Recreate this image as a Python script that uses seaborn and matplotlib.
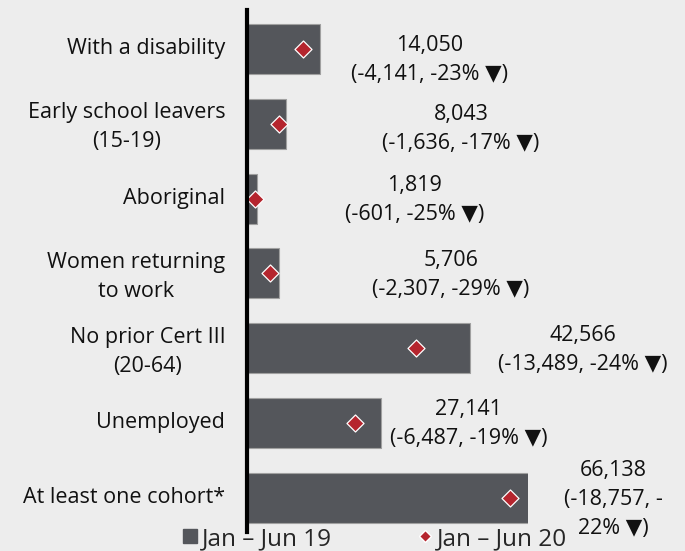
import matplotlib
matplotlib.use("Agg")
import matplotlib.pyplot as plt
from matplotlib.lines import Line2D
import matplotlib.transforms as mtransforms
import seaborn as sns
import pandas as pd

categories = ["With a disability", "Early school leavers\n(15-19)", "Aboriginal",
              "Women returning\nto work", "No prior Cert III\n(20-64)", "Unemployed",
              "At least one cohort*"]
jun19 = [18191, 9679, 2420, 8013, 56055, 33628, 84895]
jun20 = [14050, 8043, 1819, 5706, 42566, 27141, 66138]
change = [-4141, -1636, -601, -2307, -13489, -6487, -18757]
pct = [-23, -17, -25, -29, -24, -19, -22]

# layout (label positions in data units)
label_x = [45800, 53800, 42200, 51300, 84600, 55800, 92200]
label_dy = [0.14, 0.07, 0.02, 0.02, 0.02, 0.02, 0.03]

BG = "#ededed"
BAR = "#54565b"
RED = "#b5252e"
FS = 15.5

sns.set_theme(style="white")
plt.rcParams["font.family"] = ["Open Sans", "DejaVu Sans"]

df = pd.DataFrame({"cat": categories, "jun19": jun19, "jun20": jun20})

fig = plt.figure(figsize=(6.85, 5.51), dpi=100, facecolor=BG)
ax = fig.add_axes([0.3613, 0.0345, 0.4091, 0.9473])
ax.set_facecolor(BG)

sns.barplot(data=df, x="jun19", y="cat", color=BAR, width=0.67, saturation=1,
            edgecolor="#a0a0a0", linewidth=0.8, ax=ax, zorder=2)
sns.scatterplot(data=df, x="jun20", y="cat", marker="D", s=75, color=RED,
                edgecolor="white", linewidth=0.9, ax=ax, zorder=3, legend=False)

ax.set_xlim(0, 70630)
ax.set_ylim(6.46, -0.522)
ax.set_xlabel("")
ax.set_ylabel("")
ax.set_xticks([])
for s in ["top", "right", "bottom"]:
    ax.spines[s].set_visible(False)
ax.spines["left"].set_linewidth(3)
ax.spines["left"].set_color("black")
ax.spines["left"].set_zorder(5)
ax.tick_params(axis="y", length=0, pad=16, labelsize=FS, labelcolor="#111111")
shift = mtransforms.ScaledTranslation(0, 3 / 100, fig.dpi_scale_trans)
for t in ax.get_yticklabels():
    t.set_multialignment("center")
    t.set_linespacing(1.5)
    t.set_transform(t.get_transform() + shift)

for i in range(len(categories)):
    if i == len(categories) - 1:
        txt = f"{jun20[i]:,}\n({change[i]:,}, -\n{abs(pct[i])}% \u25bc)"
    else:
        txt = f"{jun20[i]:,}\n({change[i]:,}, {pct[i]}% \u25bc)"
    ax.text(label_x[i], i + label_dy[i], txt, ha="center", va="center",
            fontsize=FS, color="#111111", linespacing=1.5, clip_on=False)

handles = [Line2D([], [], marker="s", color=BAR, linestyle="none", markersize=10),
           Line2D([], [], marker="D", color=RED, markeredgecolor="white",
                  linestyle="none", markersize=6)]
fig.legend(handles, ["Jan \u2013 Jun 19", "Jan \u2013 Jun 20"], loc="center",
           bbox_to_anchor=(0.5465, 0.022), ncol=2, frameon=False, fontsize=17.5,
           columnspacing=3.48, handlelength=0.7, handletextpad=0.15, borderpad=0)

fig.savefig("out.png", dpi=100, facecolor=BG)
